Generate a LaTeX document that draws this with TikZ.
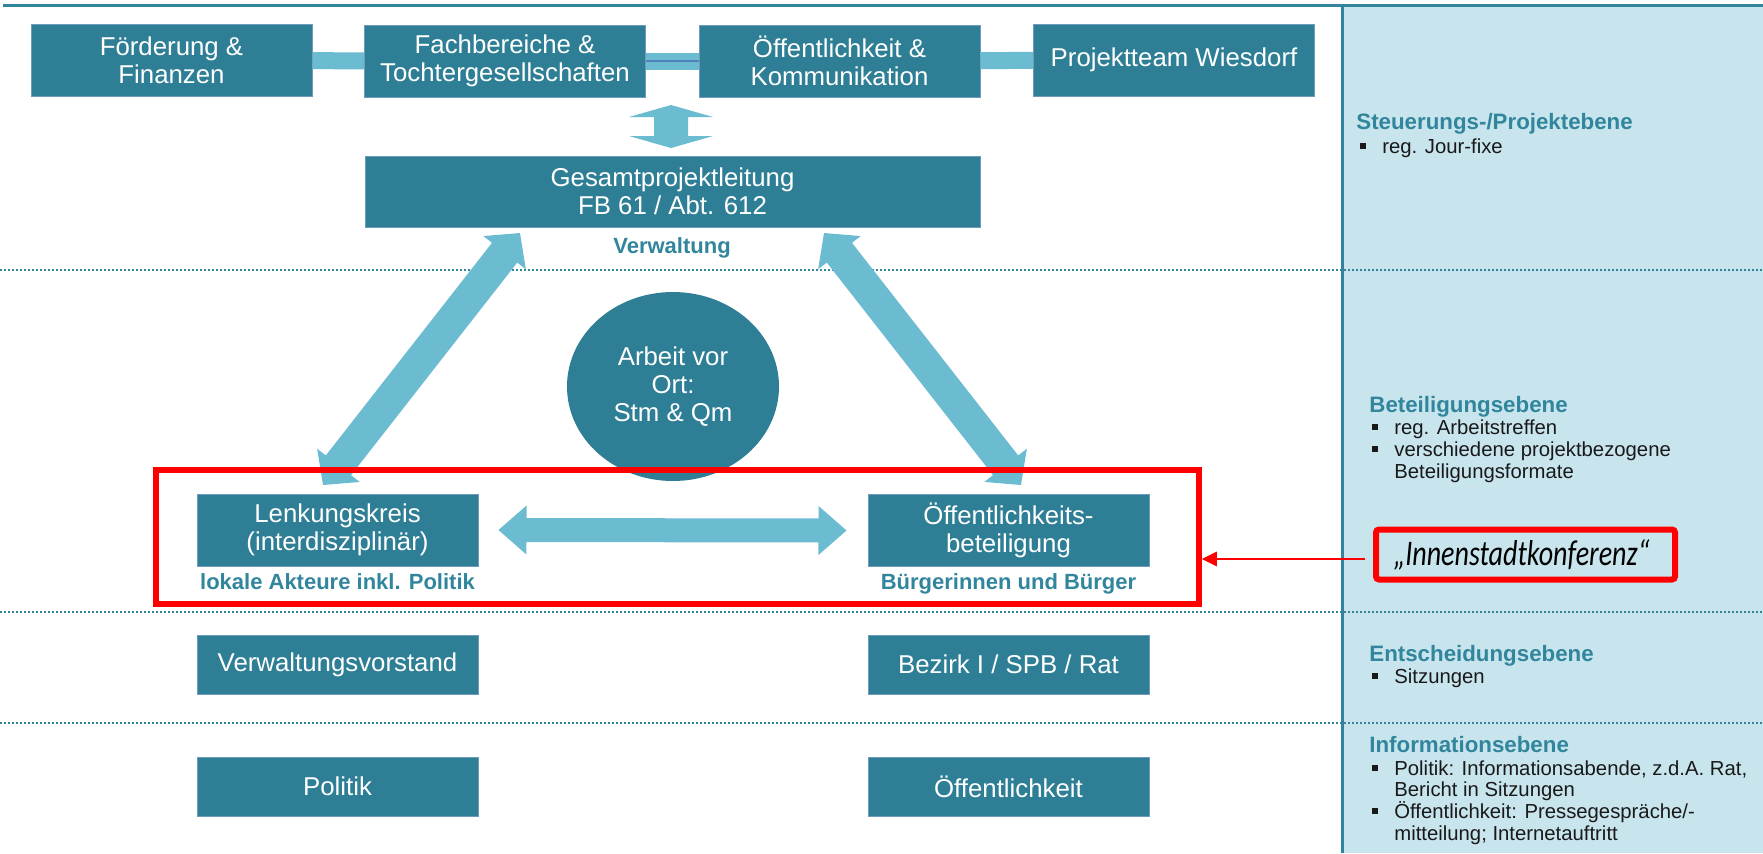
\documentclass[tikz,border=0pt]{standalone}
\usepackage{fontspec}
\setmainfont{Liberation Sans}
\newfontfamily\calfont{Carlito}
\usetikzlibrary{calc,shapes.geometric,arrows.meta}
\definecolor{boxcol}{RGB}{46,127,149}
\definecolor{boxline}{RGB}{110,155,185}
\definecolor{arrcol}{RGB}{107,187,209}
\definecolor{panelcol}{RGB}{200,229,237}
\definecolor{headcol}{RGB}{49,133,156}
\definecolor{linecol}{RGB}{49,132,155}
\definecolor{thinblue}{RGB}{79,129,189}
\definecolor{txtcol}{RGB}{25,25,25}
\newcommand{\blockarr}[5]{%
  \coordinate (ha) at ($(#1)!#3!(#2)$);
  \coordinate (hb) at ($(#2)!#3!(#1)$);
  \fill[arrcol] (#1) -- ($(ha)!#4!90:(#2)$) -- ($(ha)!#5!90:(#2)$) -- ($(hb)!#5!-90:(#1)$) -- ($(hb)!#4!-90:(#1)$) -- (#2) -- ($(hb)!#4!90:(#1)$) -- ($(hb)!#5!90:(#1)$) -- ($(ha)!#5!-90:(#2)$) -- ($(ha)!#4!-90:(#2)$) -- cycle;
}
\newcommand{\bul}{\makebox[11pt][l]{\raisebox{2pt}{\rule{2.8pt}{2.8pt}}}}
\tikzset{
  box/.style={fill=boxcol, draw=boxline, line width=0.5pt, text=white,
    font=\fontsize{12.9}{14}\selectfont, align=center,
    minimum width=140.5pt, minimum height=36pt, inner sep=0pt},
  lowbox/.style={box, minimum height=29.5pt},
  bar/.style={arrcol, line width=8.5pt},
  lab/.style={font=\fontsize{11}{13}\selectfont\bfseries, text=headcol, inner sep=0pt, anchor=base},
  ph/.style={font=\fontsize{11.15}{13}\selectfont\bfseries, text=headcol, inner sep=0pt, anchor=base west},
  pl/.style={font=\fontsize{10.15}{12}\selectfont, text=txtcol, inner sep=0pt, anchor=base west},
  dotline/.style={linecol, line width=1pt, dash pattern=on 1pt off 1pt}
}
\begin{document}
\begin{tikzpicture}[x=0.5pt,y=-0.5pt]
\useasboundingbox (0,0) rectangle (1763,853);
% right panel
\fill[panelcol] (1342,7) rectangle (1763,853);
% top line
\draw[linecol, line width=1.5pt] (3,5) -- (1763,5);
% dotted level separators
\draw[dotline] (0,270) -- (1763,270);
\draw[dotline] (0,612) -- (1763,612);
\draw[dotline] (0,723) -- (1763,723);
% panel border
\draw[linecol, line width=1.5pt] (1342,7) -- (1342,853);

% top row
\node[box] (f1) at (171.5,60.5) {Förderung \&\\Finanzen};
\node[box] (f2) at (505,61) {Fachbereiche \&\\Tochtergesellschaften};
\node[box] (f3) at (839.5,61) {Öffentlichkeit \&\\Kommunikation};
\node[box] (f4) at (1174,60) {Projektteam Wiesdorf};
\draw[bar] (f1) -- (f2);
\draw[bar] (f2) -- (f3);
\draw[bar] (f3) -- (f4);
\draw[thinblue, line width=0.6pt] (f2) -- (f3);

% Gesamtprojektleitung
\node[box, minimum width=307.5pt, minimum height=35.5pt] (gpl) at (672.5,191.5) {Gesamtprojektleitung\\FB 61 / Abt. 612};
\node[lab] (verw) at (672,253) {Verwaltung};

% vertical double arrow
\coordinate (v1) at (671,105);
\coordinate (v2) at (671,148);
\blockarr{v1}{v2}{6pt}{21pt}{8.5pt}

% ellipse
\node[ellipse, fill=boxcol, minimum width=106pt, minimum height=94.5pt, inner sep=0pt, text=white, align=center, font=\fontsize{12.9}{14}\selectfont] (avo) at (673,386.5) {Arbeit vor\\Ort:\\Stm \& Qm};

% participation level boxes
\node[box] (lk) at (337.5,530) {Lenkungskreis\\(interdisziplinär)};
\node[box] (ob) at (1008.5,530.5) {Öffentlichkeits-\\beteiligung};
\node[lab] (lak) at (337.5,589) {lokale Akteure inkl. Politik};
\node[lab] (bub) at (1008.5,589) {Bürgerinnen und Bürger};

% diagonal double arrows
\coordinate (dl1) at (520,233);
\coordinate (dl2) at (323,485);
\coordinate (dr1) at (824,233);
\coordinate (dr2) at (1021,485);
\blockarr{dl1}{dl2}{12.5pt}{13.5pt}{8pt}
\blockarr{dr1}{dr2}{12.5pt}{13.5pt}{8pt}

% horizontal double arrow
\coordinate (hl) at ($(lk.east)+(20,0)$);
\coordinate (hr) at ($(ob.west)+(-21,0)$);
\blockarr{hl}{hr}{14pt}{12.25pt}{6pt}

% decision and information levels
\node[lowbox] (vv) at (337.5,664.5) {Verwaltungsvorstand};
\node[lowbox] (bz) at (1008.5,664.5) {Bezirk I / SPB / Rat};
\node[lowbox] (pol) at (337.5,786.5) {Politik};
\node[lowbox] (oef) at (1008.5,786.5) {Öffentlichkeit};

% red frame
\node[draw=red, line width=2.75pt, minimum width=521.5pt, minimum height=67pt, inner sep=0pt] (rb) at (677.5,537) {};

% Innenstadtkonferenz
\node[draw=red, line width=3pt, fill=panelcol, rounded corners=1.5pt, minimum width=149.5pt, minimum height=25pt, inner sep=0pt] (ik) at (1525.5,554.5) {\hspace*{-4pt}\scalebox{0.78}[1]{\calfont\itshape\fontsize{18}{20}\selectfont „Innenstadtkonferenz“}};
\draw[red, line width=1.35pt, -{Triangle[length=7.5pt,width=7pt]}, shorten <=4pt] ([yshift=-2.25pt]ik.west) -- ([yshift=-2.25pt]ik.west -| rb.east);

% right panel texts
\node[ph] (h1) at (1356,129) {Steuerungs-/Projektebene};
\node[pl] (t1) at (1360,153) {\bul reg. Jour-fixe};
\node[ph] (h2) at (1369,412) {Beteiligungsebene};
\node[pl] (t2) at (1372,434) {\bul reg. Arbeitstreffen};
\node[pl] (t3) at (1372,456) {\bul verschiedene projektbezogene};
\node[pl] (t4) at (1394,478) {Beteiligungsformate};
\node[ph] (h3) at (1369,661) {Entscheidungsebene};
\node[pl] (t5) at (1372,683) {\bul Sitzungen};
\node[ph] (h4) at (1369,752) {Informationsebene};
\node[pl] (t6) at (1372,775) {\bul Politik: Informationsabende, z.d.A. Rat,};
\node[pl] (t7) at (1394,796) {Bericht in Sitzungen};
\node[pl] (t8) at (1372,818) {\bul Öffentlichkeit: Pressegespräche/-};
\node[pl] (t9) at (1394,840) {mitteilung; Internetauftritt};
\end{tikzpicture}
\end{document}
